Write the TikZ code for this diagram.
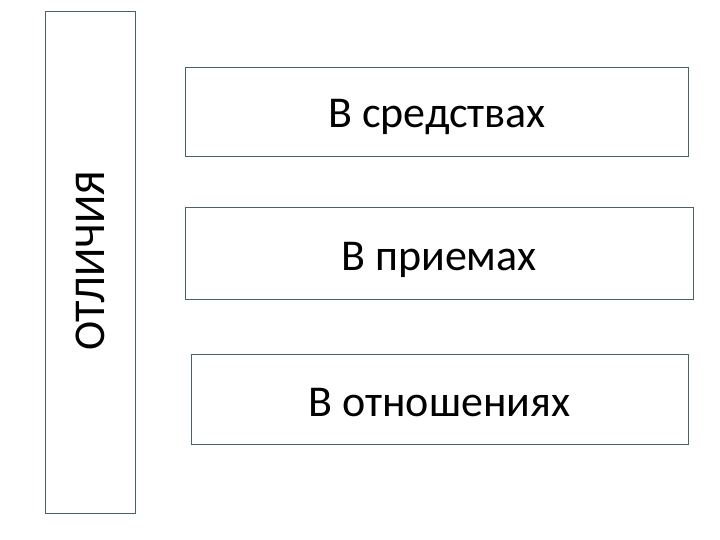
\documentclass[tikz,border=0pt]{standalone}
\usepackage{fontspec}
\setmainfont{Carlito}
\definecolor{edge}{RGB}{72,98,104}
\begin{document}
\begin{tikzpicture}[x=1pt,y=-1pt,
  box/.style={draw=edge,line width=1pt,fill=white},
  lbl/.style={font=\fontsize{44}{50}\selectfont,text=black,inner sep=0pt}]
\useasboundingbox (0,0) rectangle (720,540);
\draw[box] (45,12) rectangle (135,513);
\node[lbl,rotate=90] (side) at (90,261) {ОТЛИЧИЯ};
\draw[box] (185,67.5) rectangle (688,157);
\node[lbl,anchor=base] (a) at (437,127.3) {В средствах};
\draw[box] (185,208) rectangle (693,299);
\node[lbl,anchor=base] (b) at (439,270) {В приемах};
\draw[box] (191,354) rectangle (688,444);
\node[lbl,anchor=base] (c) at (439.5,416.7) {В отношениях};
\end{tikzpicture}
\end{document}
